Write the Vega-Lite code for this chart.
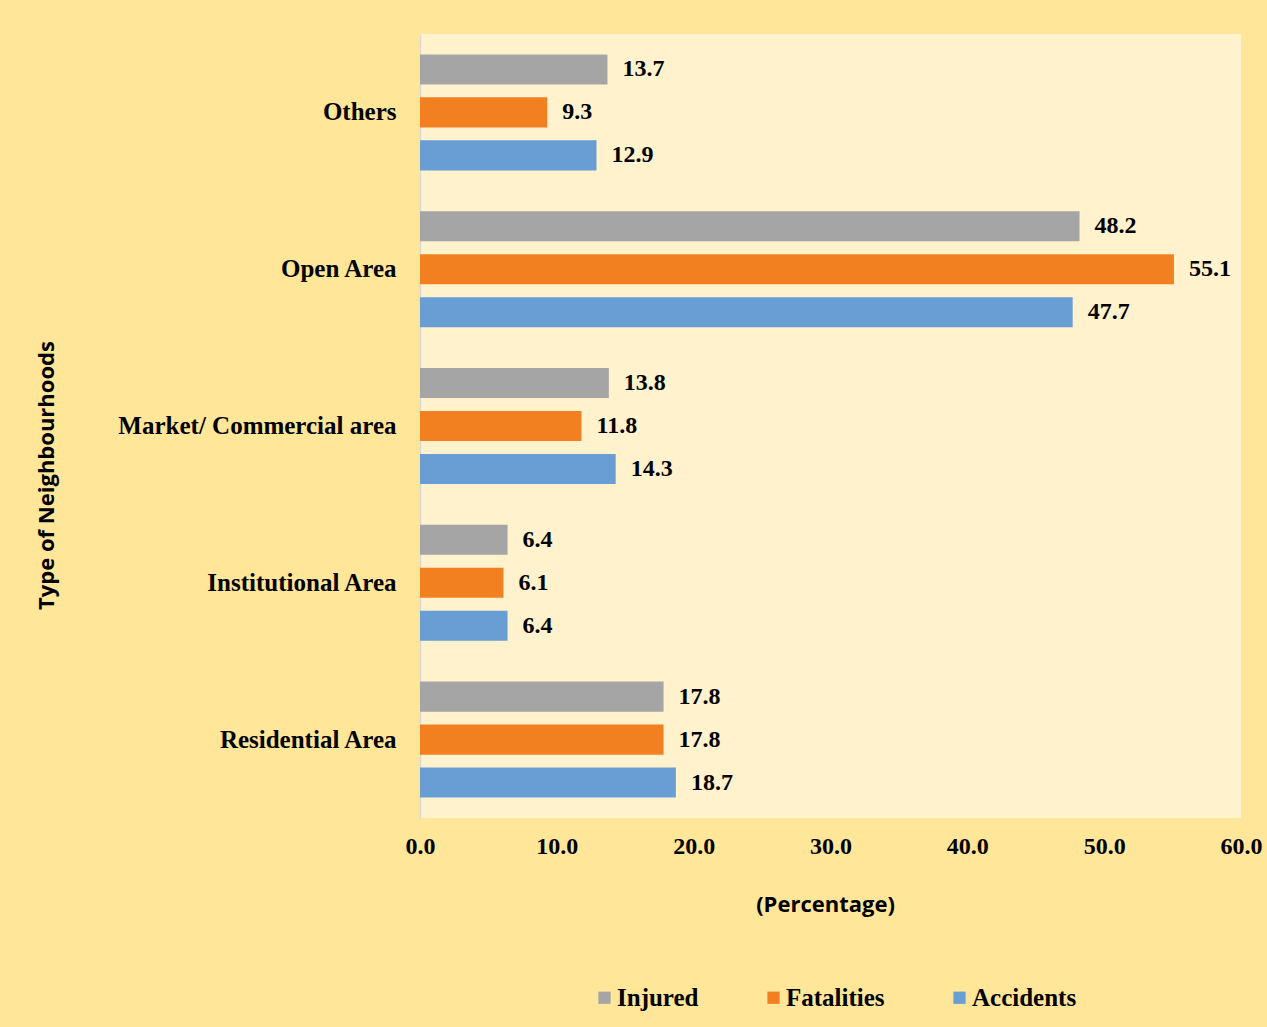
{
  "$schema": "https://vega.github.io/schema/vega-lite/v6.json",
  "width": 821,
  "height": 784,
  "autosize": {"type": "none"},
  "padding": {"left": 420, "top": 34, "right": 26, "bottom": 209},
  "background": "#FFE699",
  "data": {
    "values": [
      {"area": "Others", "series": "Injured", "value": 13.7},
      {"area": "Others", "series": "Fatalities", "value": 9.3},
      {"area": "Others", "series": "Accidents", "value": 12.9},
      {"area": "Open Area", "series": "Injured", "value": 48.2},
      {"area": "Open Area", "series": "Fatalities", "value": 55.1},
      {"area": "Open Area", "series": "Accidents", "value": 47.7},
      {"area": "Market/ Commercial area", "series": "Injured", "value": 13.8},
      {"area": "Market/ Commercial area", "series": "Fatalities", "value": 11.8},
      {"area": "Market/ Commercial area", "series": "Accidents", "value": 14.3},
      {"area": "Institutional Area", "series": "Injured", "value": 6.4},
      {"area": "Institutional Area", "series": "Fatalities", "value": 6.1},
      {"area": "Institutional Area", "series": "Accidents", "value": 6.4},
      {"area": "Residential Area", "series": "Injured", "value": 17.8},
      {"area": "Residential Area", "series": "Fatalities", "value": 17.8},
      {"area": "Residential Area", "series": "Accidents", "value": 18.7}
    ]
  },
  "encoding": {
    "y": {
      "field": "area",
      "type": "nominal",
      "sort": ["Others", "Open Area", "Market/ Commercial area", "Institutional Area", "Residential Area"],
      "scale": {"paddingInner": 0.26, "paddingOuter": 0.13},
      "axis": {
        "title": "Type of Neighbourhoods",
        "titleFont": "Open Sans",
        "titleFontWeight": "bold",
        "titleFontSize": 22,
        "titleColor": "#000000",
        "titleX": -374,
        "titleY": 441,
        "titleAngle": -90,
        "titleBaseline": "middle",
        "titleAlign": "center",
        "labelFont": "Liberation Serif",
        "labelFontWeight": "bold",
        "labelFontSize": 25,
        "labelColor": "#000000",
        "labelPadding": 24,
        "labelLimit": 400,
        "ticks": false,
        "domain": true,
        "domainColor": "#D9D9D9",
        "domainWidth": 1.5,
        "grid": false
      }
    },
    "yOffset": {
      "field": "series",
      "type": "nominal",
      "sort": ["Injured", "Fatalities", "Accidents"],
      "scale": {"paddingInner": 0.3, "paddingOuter": 0}
    },
    "x": {
      "field": "value",
      "type": "quantitative",
      "scale": {"domain": [0, 60], "nice": false},
      "axis": {
        "title": "(Percentage)",
        "titleFont": "Open Sans",
        "titleFontWeight": "bold",
        "titleFontSize": 22,
        "titleColor": "#000000",
        "titlePadding": 36,
        "titleX": 405,
        "titleAlign": "center",
        "values": [0, 10, 20, 30, 40, 50, 60],
        "format": ".1f",
        "labelFont": "Liberation Serif",
        "labelFontWeight": "bold",
        "labelFontSize": 24,
        "labelColor": "#000000",
        "labelPadding": 16,
        "ticks": false,
        "domain": false,
        "grid": false,
        "labelFlush": false
      }
    }
  },
  "layer": [
    {
      "mark": {"type": "bar"},
      "encoding": {
        "color": {
          "field": "series",
          "type": "nominal",
          "sort": ["Injured", "Fatalities", "Accidents"],
          "scale": {"domain": ["Injured", "Fatalities", "Accidents"], "range": ["#A5A5A5", "#F28021", "#699ED4"]},
          "legend": {
            "title": null,
            "orient": "none",
            "direction": "horizontal",
            "legendX": 172,
            "legendY": 951,
            "symbolType": "square",
            "symbolSize": 150,
            "symbolStrokeWidth": 0,
            "labelFont": "Liberation Serif",
            "labelFontWeight": "bold",
            "labelFontSize": 25,
            "labelColor": "#000000",
            "labelOffset": 0,
            "columnPadding": 62
          }
        }
      }
    },
    {
      "mark": {"type": "text", "align": "left", "baseline": "middle", "dx": 15, "font": "Liberation Serif", "fontWeight": "bold", "fontSize": 24, "color": "#000000"},
      "encoding": {
        "text": {"field": "value", "type": "quantitative", "format": ".1f"}
      }
    }
  ],
  "config": {
    "view": {"fill": "#FFF2CC", "stroke": null}
  }
}
